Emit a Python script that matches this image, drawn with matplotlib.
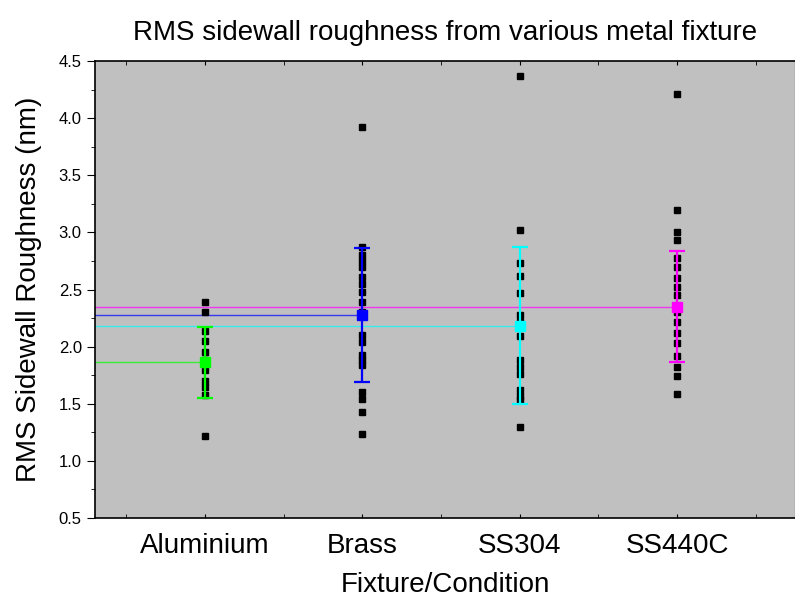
import numpy as np
import matplotlib
matplotlib.use("Agg")
import matplotlib.pyplot as plt
from matplotlib.ticker import MultipleLocator

plt.rcParams['font.family'] = ['Liberation Sans', 'DejaVu Sans']

# 데이터
categories = ["Aluminium", "Brass", "SS304", "SS440C"]
colors = ["#00ff00", "#0000ff", "#00ffff", "#ff00ff"]

aluminium = [2.39, 2.30, 2.14, 2.05, 1.95, 1.88, 1.80, 1.70, 1.65, 1.58, 1.22]
brass = [3.92, 2.87, 2.80, 2.75, 2.70, 2.61, 2.55, 2.48, 2.39, 2.30, 2.10,
         2.04, 1.93, 1.88, 1.84, 1.60, 1.54, 1.43, 1.24]
ss304 = [4.37, 3.02, 2.73, 2.62, 2.47, 2.28, 2.22, 2.09, 1.88, 1.82, 1.76,
         1.62, 1.57, 1.53, 1.30]
ss440c = [4.21, 3.20, 3.00, 2.93, 2.78, 2.70, 2.60, 2.52, 2.45, 2.30, 2.22,
          2.12, 2.03, 1.92, 1.82, 1.74, 1.59]
samples = [aluminium, brass, ss304, ss440c]

means = [1.865, 2.28, 2.185, 2.35]
sds = [0.31, 0.585, 0.69, 0.485]

# ================== 그래프 ==================
fig = plt.figure(figsize=(7.95, 6.01), dpi=100)
ax = fig.add_axes([0.1195, 0.138, 0.8805, 0.7605])
ax.set_facecolor("#c0c0c0")

xpos = np.arange(1, len(categories) + 1)

# 평균선 (왼쪽 축부터 각 평균점까지)
for x, m, c in zip(xpos, means, colors):
    ax.hlines(m, 0, x, color=c, linewidth=1, alpha=0.7, zorder=1)

# 개별 측정값
for x, vals in zip(xpos, samples):
    ax.plot([x] * len(vals), vals, linestyle="none", marker="s",
            markersize=4, color="black", zorder=2)

# 평균 ± 표준편차
for x, m, s, c in zip(xpos, means, sds, colors):
    ax.errorbar(x, m, yerr=s, color=c, marker="s", markersize=7,
                elinewidth=1.6, capsize=6, capthick=1.6, zorder=3)

ax.set_xlim(0.3, 4.75)
ax.set_ylim(0.5, 4.5)

ax.set_xticks(xpos)
ax.set_xticklabels(categories, fontsize=20)
ax.xaxis.set_minor_locator(MultipleLocator(0.5))
ax.tick_params(axis="x", which="both", direction="in", length=3,
               top=True, pad=11)

ax.yaxis.set_major_locator(MultipleLocator(0.5))
ax.yaxis.set_minor_locator(MultipleLocator(0.25))
ax.yaxis.set_major_formatter(matplotlib.ticker.FormatStrFormatter("%.1f"))
ax.tick_params(axis="y", which="major", direction="out", length=6,
               labelsize=12)
ax.tick_params(axis="y", which="minor", direction="out", length=3)

for side in ["left", "bottom", "top"]:
    ax.spines[side].set_linewidth(1.2)

ax.set_title("RMS sidewall roughness from various metal fixture",
             fontsize=20, pad=15)
ax.set_xlabel("Fixture/Condition", fontsize=20, labelpad=9)
ax.set_ylabel("RMS Sidewall Roughness (nm)", fontsize=20, labelpad=12)

plt.savefig("out.png", dpi=100)
